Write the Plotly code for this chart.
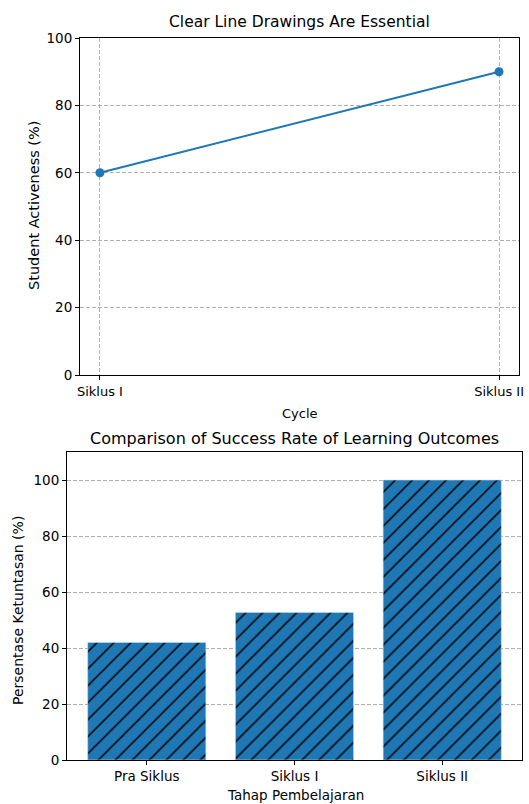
import plotly.graph_objects as go

# Data
cycles = ["Siklus I", "Siklus II"]
activeness = [60, 90]
stages = ["Pra Siklus", "Siklus I", "Siklus II"]
completion = [42.0, 52.7, 100.0]
yticks = [0, 20, 40, 60, 80, 100]

W, H = 529, 804
ML, MR, MT, MB = 50, 2, 25, 25
PW, PH = W - ML - MR, H - MT - MB
BLUE = "#1f77b4"
FONT = "DejaVu Sans"


def px_x(x):
    return (x - ML) / PW


def px_y(y):
    return 1 - (y - MT) / PH


fig = go.Figure()

fig.add_trace(go.Scatter(
    x=[0, 1], y=activeness, mode="lines+markers",
    line=dict(color=BLUE, width=2), marker=dict(color=BLUE, size=9),
    xaxis="x", yaxis="y", showlegend=False, cliponaxis=False,
))

fig.add_trace(go.Bar(
    x=[0, 1, 2], y=completion, width=0.8,
    marker=dict(color=BLUE, line=dict(color="#c9dcec", width=0.6),
                pattern=dict(shape="/", fgcolor="black", fgopacity=1, size=12,
                             solidity=0.13, fillmode="overlay")),
    xaxis="x2", yaxis="y2", showlegend=False,
))

axis_common = dict(showline=True, linecolor="black", linewidth=1, mirror=True,
                   ticks="outside", ticklen=4, tickcolor="black", zeroline=False,
                   automargin=False, ticklabeloverflow="allow")
grid = dict(showgrid=True, gridcolor="#b0b0b0", griddash="4px,2px", gridwidth=0.8)


def label(text, x, y, size, angle=0):
    return dict(text=text, x=px_x(x), y=px_y(y), xref="paper", yref="paper",
                xanchor="center", yanchor="middle", textangle=angle,
                showarrow=False, font=dict(family=FONT, size=size, color="black"))


fig.update_layout(
    width=W, height=H,
    margin=dict(l=ML, r=MR, t=MT, b=MB),
    paper_bgcolor="white", plot_bgcolor="white",
    xaxis=dict(domain=[px_x(80), px_x(519)], range=[-0.05, 1.05],
               tickvals=[0, 1], ticktext=cycles,
               tickfont=dict(family=FONT, size=13, color="black"),
               anchor="y", **grid, **axis_common),
    yaxis=dict(domain=[px_y(375), px_y(38)], range=[0, 100],
               tickvals=yticks,
               tickfont=dict(family=FONT, size=13.5, color="black"),
               anchor="x", **grid, **axis_common),
    xaxis2=dict(domain=[px_x(67), px_x(522)], range=[-0.54, 2.54],
                tickvals=[0, 1, 2], ticktext=stages, showgrid=False,
                tickfont=dict(family=FONT, size=13.5, color="black"),
                anchor="y2", **axis_common),
    yaxis2=dict(domain=[px_y(760), px_y(452)], range=[0, 110],
                tickvals=yticks,
                tickfont=dict(family=FONT, size=13.5, color="black"),
                anchor="x2", **grid, **axis_common),
    annotations=[
        label("Clear Line Drawings Are Essential", 299.5, 22, 15.5),
        label("Cycle", 299.5, 413, 13),
        label("Student Activeness (%)", 34, 206, 14.5, -90),
        label("Comparison of Success Rate of Learning Outcomes", 294, 438, 16),
        label("Tahap Pembelajaran", 295, 795, 13.5),
        label("Persentase Ketuntasan (%)", 18, 611, 14, -90),
    ],
)

fig.write_html("out.html",
               config={"displayModeBar": False},
               post_script="document.body.style.margin='0px';"
                           "document.body.style.overflow='hidden';")
